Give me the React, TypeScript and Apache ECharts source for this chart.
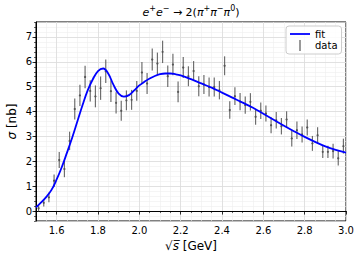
import React, { useEffect, useRef } from "react";
import * as echarts from "echarts";

const xData = [
  1.5125, 1.5375, 1.5625, 1.5875, 1.6125, 1.6375, 1.6625, 1.6875, 1.7125, 1.7375,
  1.7625, 1.7875, 1.8125, 1.8375, 1.8625, 1.8875, 1.9125, 1.9375, 1.9625, 1.9875,
  2.0125, 2.0375, 2.0625, 2.0875, 2.1125, 2.1375, 2.1625, 2.1875, 2.2125, 2.2375,
  2.2625, 2.2875, 2.3125, 2.3375, 2.3625, 2.3875, 2.4125, 2.4375, 2.4625, 2.4875,
  2.5125, 2.5375, 2.5625, 2.5875, 2.6125, 2.6375, 2.6625, 2.6875, 2.7125, 2.7375,
  2.7625, 2.7875, 2.8125, 2.8375, 2.8625, 2.8875, 2.9125, 2.9375, 2.9625, 2.9875,
];
const yData = [
  0.11, 0.33, 0.55, 1.22, 2.05, 1.69, 2.82, 4.1, 4.65, 5.39,
  4.83, 4.61, 4.94, 5.62, 4.82, 4.35, 4.03, 4.45, 4.47, 4.83,
  5.57, 5.13, 6.09, 5.93, 6.4, 5.42, 5.89, 4.79, 5.77, 5.42,
  5.63, 5.02, 5.09, 4.99, 4.99, 4.86, 5.84, 4.06, 4.62, 4.4,
  4.26, 4.39, 3.79, 4.03, 3.92, 3.45, 3.65, 3.41, 3.68, 2.92,
  3.25, 3.08, 3.36, 2.72, 3.05, 2.38, 2.38, 2.41, 2.12, 2.61,
];
const yErr = [
  0.13, 0.15, 0.2, 0.25, 0.32, 0.33, 0.37, 0.42, 0.43, 0.45,
  0.43, 0.44, 0.47, 0.47, 0.44, 0.43, 0.4, 0.4, 0.4, 0.4,
  0.42, 0.42, 0.44, 0.44, 0.45, 0.43, 0.43, 0.42, 0.42, 0.4,
  0.4, 0.4, 0.38, 0.38, 0.38, 0.37, 0.38, 0.35, 0.36, 0.35,
  0.35, 0.35, 0.32, 0.33, 0.32, 0.32, 0.33, 0.33, 0.33, 0.33,
  0.35, 0.32, 0.32, 0.3, 0.32, 0.25, 0.25, 0.3, 0.29, 0.3,
];

const fitX = [
  1.5, 1.525, 1.55, 1.575, 1.6, 1.625, 1.65, 1.675, 1.7, 1.725,
  1.75, 1.775, 1.8, 1.825, 1.85, 1.875, 1.9, 1.925, 1.95, 1.975,
  2.0, 2.025, 2.05, 2.075, 2.1, 2.125, 2.15, 2.175, 2.2, 2.25,
  2.3, 2.35, 2.4, 2.45, 2.5, 2.55, 2.6, 2.65, 2.7, 2.75,
  2.8, 2.85, 2.9, 2.95, 3.0,
];
const fitY = [
  0.15, 0.35, 0.57, 0.85, 1.27, 1.77, 2.35, 2.95, 3.6, 4.25,
  4.85, 5.3, 5.63, 5.73, 5.52, 5.07, 4.72, 4.6, 4.66, 4.85,
  5.05, 5.2, 5.33, 5.43, 5.5, 5.53, 5.53, 5.5, 5.45, 5.3,
  5.13, 4.96, 4.76, 4.56, 4.36, 4.15, 3.91, 3.67, 3.43, 3.2,
  2.98, 2.78, 2.6, 2.46, 2.35,
];

const xTicks = [1.6, 1.8, 2.0, 2.2, 2.4, 2.6, 2.8, 3.0];
const yTicks = [0, 1, 2, 3, 4, 5, 6, 7];

const FONT = "DejaVu Sans";
const MAJOR_GRID = "#dcdcdc";
const MINOR_GRID = "#efefef";
const BAR_COLOR = "#555555";

export default function App() {
  const ref = useRef<HTMLDivElement>(null);

  useEffect(() => {
    if (!ref.current) return;
    const chart = echarts.init(ref.current, null, { renderer: "svg" });

    const pts = xData.map((x, i) => [x, yData[i], yErr[i]]);
    const fit = fitX.map((x, i) => [x, fitY[i]]);

    const option: any = {
      animation: false,
      backgroundColor: "#ffffff",
      textStyle: { fontFamily: FONT },
      grid: {
        left: 36,
        right: 15,
        top: 22,
        bottom: 43,
        show: true,
        borderColor: "#000",
        borderWidth: 1,
        backgroundColor: "transparent",
        containLabel: false,
      },
      xAxis: [
        {
          type: "value",
          min: 1.5,
          max: 3.0,
          position: "bottom",
          axisLine: { show: true, lineStyle: { color: "#000", width: 1 } },
          axisTick: {
            show: true,
            customValues: xTicks,
            length: 3.5,
            lineStyle: { color: "#000", width: 0.8 },
          },
          axisLabel: {
            customValues: xTicks,
            formatter: (v: number) => v.toFixed(1),
            color: "#000",
            fontSize: 10,
            fontFamily: FONT,
            margin: 4,
          },
          splitLine: { show: true, lineStyle: { color: MAJOR_GRID, width: 0.8 } },
          z: 3,
        },
        {
          type: "value",
          min: 1.5,
          max: 3.0,
          interval: 0.05,
          position: "bottom",
          axisLine: { show: false },
          axisTick: { show: true, length: 2, lineStyle: { color: "#000", width: 0.6 } },
          axisLabel: { show: false },
          splitLine: { show: true, lineStyle: { color: MINOR_GRID, width: 0.6 } },
          z: 2,
        },
      ],
      yAxis: [
        {
          type: "value",
          min: -0.4,
          max: 7.6,
          position: "left",
          axisLine: { show: true, lineStyle: { color: "#000", width: 1 } },
          axisTick: {
            show: true,
            customValues: yTicks,
            length: 3.5,
            lineStyle: { color: "#000", width: 0.8 },
          },
          axisLabel: {
            customValues: yTicks,
            color: "#000",
            fontSize: 10,
            fontFamily: FONT,
            margin: 4,
          },
          splitLine: { show: true, lineStyle: { color: MAJOR_GRID, width: 0.8 } },
          z: 3,
        },
        {
          type: "value",
          min: -0.4,
          max: 7.6,
          interval: 0.2,
          position: "left",
          axisLine: { show: false },
          axisTick: { show: true, length: 2, lineStyle: { color: "#000", width: 0.6 } },
          axisLabel: { show: false },
          splitLine: { show: true, lineStyle: { color: MINOR_GRID, width: 0.6 } },
          z: 2,
        },
      ],
      legend: {
        show: true,
        orient: "vertical",
        left: 286,
        top: 26,
        padding: [3, 4, 3, 4],
        itemGap: 1,
        itemWidth: 20,
        itemHeight: 11,
        borderColor: "#cccccc",
        borderWidth: 1,
        borderRadius: 3,
        backgroundColor: "rgba(255,255,255,0.85)",
        textStyle: { fontFamily: FONT, fontSize: 10, color: "#000" },
        data: [
          { name: "fit", icon: "path://M0,0H20V1.8H0Z" },
          { name: "data", icon: "path://M0,0H1.2V11H0Z" },
        ],
      },
      series: [
        {
          name: "fit",
          type: "line",
          xAxisIndex: 0,
          yAxisIndex: 0,
          data: fit,
          smooth: 0.4,
          showSymbol: false,
          symbol: "none",
          itemStyle: { color: "#0000ff" },
          lineStyle: { color: "#0000ff", width: 1.8 },
          z: 5,
        },
        {
          name: "data",
          type: "custom",
          xAxisIndex: 0,
          yAxisIndex: 0,
          data: pts,
          encode: { x: 0, y: 1 },
          itemStyle: { color: BAR_COLOR },
          z: 4,
          renderItem: (params: any, api: any) => {
            const x = api.value(0);
            const y = api.value(1);
            const e = api.value(2);
            const p = api.coord([x, y]);
            const lo = api.coord([x, y - e]);
            const hi = api.coord([x, y + e]);
            return {
              type: "group",
              children: [
                {
                  type: "line",
                  shape: { x1: p[0], y1: lo[1], x2: p[0], y2: hi[1] },
                  style: { stroke: BAR_COLOR, lineWidth: 1.2, opacity: 0.85 },
                },
                {
                  type: "circle",
                  shape: { cx: p[0], cy: p[1], r: 1.1 },
                  style: { fill: BAR_COLOR },
                },
              ],
            };
          },
        },
      ],
      graphic: [
        {
          type: "text",
          x: 191,
          y: 11,
          style: {
            text: "{i|e}{s|+}{i|e}{s|−}{n| → 2(}{i|π}{s|+}{i|π}{s|−}{i|π}{s|0}{n|)}",
            align: "center",
            verticalAlign: "middle",
            fill: "#000",
            rich: {
              i: { fontFamily: FONT, fontSize: 11, fontStyle: "italic", lineHeight: 14, verticalAlign: "bottom", fill: "#000" },
              n: { fontFamily: FONT, fontSize: 11, lineHeight: 14, verticalAlign: "bottom", fill: "#000" },
              s: { fontFamily: FONT, fontSize: 8, lineHeight: 10, verticalAlign: "top", fill: "#000" },
            },
          },
        },
        {
          type: "text",
          x: 191,
          y: 246,
          style: {
            text: "{n|√}{i|s̅}{n| [GeV]}",
            align: "center",
            verticalAlign: "middle",
            fill: "#000",
            rich: {
              i: { fontFamily: FONT, fontSize: 12, fontStyle: "italic", fill: "#000" },
              n: { fontFamily: FONT, fontSize: 12, fill: "#000" },
            },
          },
        },
        {
          type: "text",
          x: 12,
          y: 121.5,
          rotation: Math.PI / 2,
          style: {
            text: "{i|σ}{n| [nb]}",
            align: "center",
            verticalAlign: "middle",
            fill: "#000",
            rich: {
              i: { fontFamily: FONT, fontSize: 12, fontStyle: "italic", fill: "#000" },
              n: { fontFamily: FONT, fontSize: 12, fill: "#000" },
            },
          },
        },
      ],
    };

    chart.setOption(option);
    return () => chart.dispose();
  }, []);

  return (
    <div
      ref={ref}
      style={{ position: "fixed", left: 0, top: 0, width: 361, height: 264 }}
    />
  );
}
